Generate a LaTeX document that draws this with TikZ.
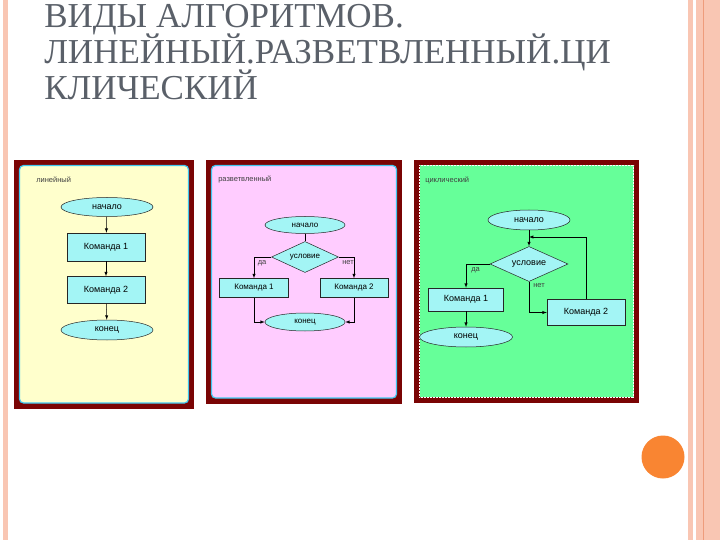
\documentclass[tikz,border=0pt]{standalone}
\usepackage{fontspec}
\setmainfont{Liberation Serif}
\newfontfamily\arialfont{Liberation Sans}
\usetikzlibrary{shapes.geometric}

\definecolor{titlegray}{HTML}{5A6069}
\definecolor{framered}{HTML}{7A0404}
\definecolor{paleyellow}{HTML}{FFFFCC}
\definecolor{palepink}{HTML}{FFCCFF}
\definecolor{palegreen}{HTML}{66FF99}
\definecolor{boxcyan}{HTML}{A3F5F5}
\definecolor{rimcyan}{HTML}{3FC8F0}
\definecolor{stripepink}{HTML}{F9C6B3}
\definecolor{stripeline}{HTML}{EE9C7C}
\definecolor{dotorange}{HTML}{F98532}

%% fixed leading, even with the tall Й
\newcommand\slidetitlefont{\fontsize{35}{36}\selectfont\lineskiplimit-50pt\relax}

\begin{document}
\begin{tikzpicture}[x=1pt,y=-1pt, %% pixel coordinates, y downwards
    >=latex, line width=.5pt,
    flow/.style={draw=black!85,fill=boxcyan,inner sep=0pt,
      font=\arialfont\fontsize{9}{10}\selectfont},
    termin/.style={flow,ellipse},
    cmdbox/.style={flow,rectangle},
    cond/.style={flow,diamond,aspect=2},
    tag/.style={inner sep=0pt,text=black!75,
      font=\arialfont\fontsize{7.5}{8}\selectfont}]
  \useasboundingbox (0,0) rectangle (720,540);

  %% slide decoration
  \fill[stripepink] (3,0) rectangle (8,540);
  \fill[stripepink] (688,0) rectangle (693,540);
  \fill[stripepink] (696,0) rectangle (720,540);
  \draw[stripeline,line width=1pt] (703,0) -- (703,540);
  \fill[dotorange] (663,457) circle (21.5);

  %% base of a 3-line node = baseline of its last line
  \node (titel) [anchor=base west,align=left,inner sep=0pt,text=titlegray,
  font=\slidetitlefont] at (44,100)
  {ВИДЫ АЛГОРИТМОВ.\\ЛИНЕЙНЫЙ.РАЗВЕТВЛЕННЫЙ.ЦИ\\КЛИЧЕСКИЙ};

  %% the three pictures
  \fill[framered] (14,160) rectangle (194,409);
  \filldraw[fill=paleyellow,draw=rimcyan,line width=1.2pt,rounded corners=4pt]
  (19.5,165.5) rectangle (188.5,403);
  \fill[framered] (206,160) rectangle (402,404);
  \filldraw[fill=palepink,draw=rimcyan,line width=1.2pt,rounded corners=4pt]
  (211.5,165.5) rectangle (396.5,398);
  \fill[framered] (414,160) rectangle (639,403);
  \filldraw[fill=palegreen,draw=white,densely dotted]
  (419.5,165.5) rectangle (633.5,397);

  %% linear
  \node (lab1) [tag,anchor=west] at (36,180) {линейный};
  \node (beg1) [termin,minimum width=92,minimum height=19] at (107,207) {начало};
  \node (cmd11) [cmdbox,minimum width=78,minimum height=28] at (106,247) {Команда 1};
  \node (cmd12) [cmdbox,minimum width=78,minimum height=27] at (106,290) {Команда 2};
  \node (end1) [termin,minimum width=92,minimum height=20] at (107,330) {конец};
  \draw[->] (beg1) -- (cmd11);
  \draw[->] (cmd11) -- (cmd12);
  \draw[->] (cmd12) -- (end1);

  %% branching
  \node (lab2) [tag,anchor=west] at (218,179.5) {разветвленный};
  \node (beg2) [termin,minimum width=80,minimum height=17,
  font=\arialfont\fontsize{8}{9}\selectfont] at (305,225) {начало};
  \node (if2) [cond,minimum width=67,minimum height=31,
  font=\arialfont\fontsize{8}{9}\selectfont] at (305,257) {условие};
  \node (cmd21) [cmdbox,minimum width=69,minimum height=19,
  font=\arialfont\fontsize{8}{9}\selectfont] at (254,288) {Команда 1};
  \node (cmd22) [cmdbox,minimum width=68,minimum height=19,
  font=\arialfont\fontsize{8}{9}\selectfont] at (354,288) {Команда 2};
  \node (end2) [termin,minimum width=80,minimum height=18,
  font=\arialfont\fontsize{8}{9}\selectfont] at (305,322) {конец};
  \draw (beg2) -- (if2);
  \draw[->] (if2.west) -| (cmd21.north);
  \draw[->] (if2.east) -| (cmd22.north);
  \draw[->] (cmd21.south) |- (end2.west);
  \draw[->] (cmd22.south) |- (end2.east);
  \node (yes2) [tag,anchor=west] at (257.5,263) {да};
  \node (no2) [tag,anchor=west] at (342,263) {нет};

  %% cyclic
  \node (lab3) [tag,anchor=west] at (425,180.5) {циклический};
  \node (beg3) [termin,minimum width=82,minimum height=20] at (529,220) {начало};
  \node (if3) [cond,minimum width=78,minimum height=35] at (529,264) {условие};
  \node (cmd31) [cmdbox,minimum width=75,minimum height=23] at (466,299.5) {Команда 1};
  \node (cmd32) [cmdbox,minimum width=78,minimum height=26] at (586,312.5) {Команда 2};
  \node (end3) [termin,minimum width=93,minimum height=20] at (466,337) {конец};
  \coordinate (back3) at (529,237);
  \draw[->] (beg3) -- (if3);
  \draw[->] (cmd32.north) |- (back3);
  \draw[->] (if3.west) -| (cmd31.north);
  \draw[->] (if3.south) |- (cmd32.west);
  \draw[->] (cmd31) -- (end3);
  \node (yes3) [tag,anchor=west] at (471,270) {да};
  \node (no3) [tag,anchor=west] at (533,286) {нет};
\end{tikzpicture}
\end{document}
